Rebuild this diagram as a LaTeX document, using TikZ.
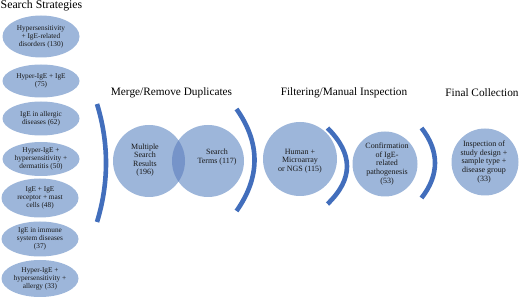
\documentclass[tikz,border=0pt]{standalone}
\usepackage{fontspec}
\setmainfont{Liberation Serif}
\usetikzlibrary{shapes.geometric}
\definecolor{fillblue}{RGB}{157,182,218}
\definecolor{overlapblue}{RGB}{118,148,201}
\definecolor{arcblue}{RGB}{66,110,188}
\definecolor{txt}{RGB}{25,25,25}
\tikzset{
  ell/.style={ellipse, fill=fillblue, minimum width=77pt, inner sep=0pt, align=center,
    text=txt, font=\fontsize{7.3}{7.9}\selectfont},
  circ/.style={circle, fill=fillblue, inner sep=0pt},
  ctext/.style={align=center, text=txt, font=\fontsize{8}{8.6}\selectfont},
  title/.style={text=black, font=\fontsize{11.3}{12}\selectfont, inner sep=0pt},
  arcband/.style={draw=arcblue, line width=4.6pt, line cap=butt}
}
\begin{document}
\begin{tikzpicture}[x=1pt,y=-1pt]
\useasboundingbox (0,0) rectangle (520,299);
% titles
\node[title, font=\fontsize{11.8}{12}\selectfont] (t1) at (41.5,6) {Search Strategies};
\node[title] (t2) at (171.5,93) {Merge/Remove Duplicates};
\node[title] (t3) at (344,93) {Filtering/Manual Inspection};
\node[title] (t4) at (482,93) {Final Collection};
% search strategies
\node[ell, minimum height=42pt] (s1) at (41,36.5) {Hypersensitivity\\+ IgE-related\\disorders (130)};
\node[ell, minimum height=33pt] (s2) at (41,81) {Hyper-IgE + IgE\\(75)};
\node[ell, minimum height=34pt] (s3) at (41,118.5) {IgE in allergic\\diseases (62)};
\node[ell, minimum height=34pt] (s4) at (41,159) {Hyper-IgE +\\hypersensitivity +\\dermatitis (50)};
\node[ell, minimum height=39pt] (s5) at (40,198) {IgE + IgE\\receptor + mast\\cells (48)};
\node[ell, minimum height=35pt] (s6) at (40,239) {IgE in immune\\system diseases\\(37)};
\node[ell, minimum height=37pt] (s7) at (40,278.5) {Hyper-IgE +\\hypersensitivity +\\allergy (33)};
% arcs
\draw[arcband] (97,104) .. controls (109,143) and (109,183) .. (97,222);
\draw[arcband] (236.5,109) .. controls (260.5,143) and (260.5,177) .. (236.5,211);
\draw[arcband] (327.5,128) .. controls (353.5,154) and (353.5,179) .. (327.5,204);
\draw[arcband] (421.5,128) .. controls (439.5,151) and (439.5,175) .. (421.5,198);
% venn
\node[circ, minimum size=72pt] (v1) at (149,161) {};
\node[circ, minimum size=72pt] (v2) at (208,161) {};
\begin{scope}
  \clip (v1.center) circle (36pt);
  \fill[overlapblue] (v2.center) circle (36pt);
\end{scope}
\node[ctext] (v1t) at (145,160) {Multiple\\Search\\Results\\(196)};
\node[ctext] (v2t) at (217,157) {Search\\Terms (117)};
% filtering
\node[circ, minimum size=74pt] (f1) at (300,159) {};
\node[ctext] (f1t) at (300,161) {Human +\\Microarray\\or NGS (115)};
\node[circ, minimum size=65pt] (f2) at (385,164) {};
\node[ctext] (f2t) at (387,164) {Confirmation\\of IgE-\\related\\pathogenesis\\(53)};
% final
\node[circ, minimum size=67pt] (c1) at (485,162) {};
\node[ctext] (c1t) at (484,162) {Inspection of\\study design +\\sample type +\\disease group\\(33)};
\end{tikzpicture}
\end{document}
